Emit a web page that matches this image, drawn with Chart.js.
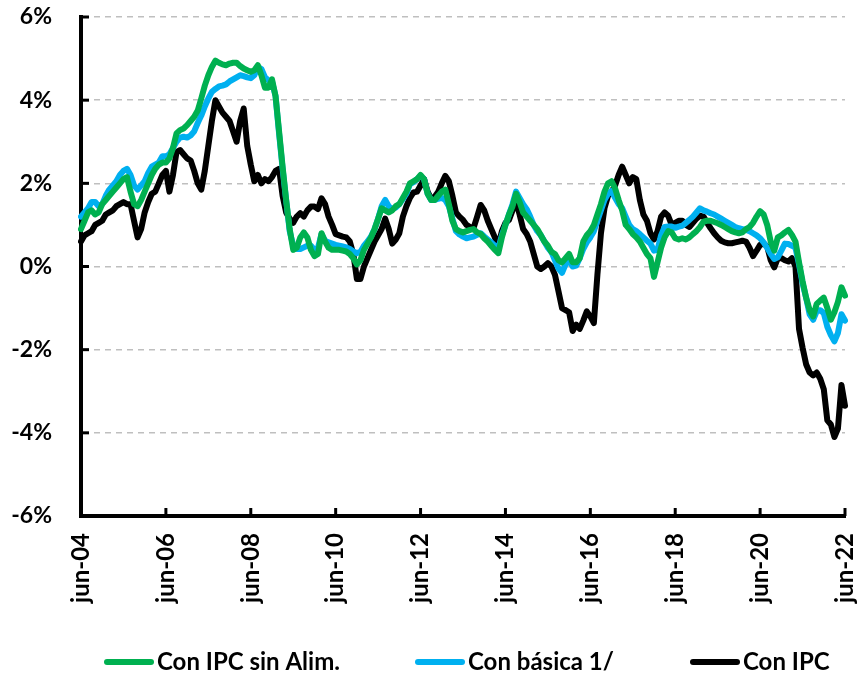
<!DOCTYPE html>
<html>
<head>
<meta charset="utf-8">
<script src="https://cdn.jsdelivr.net/npm/chart.js@4.4.1/dist/chart.umd.min.js"></script>
<style>
  html, body { margin: 0; padding: 0; background: #fff; overflow: hidden; }
  #wrap { width: 859px; height: 673px; }
</style>
</head>
<body>
<div id="wrap"><canvas id="brechas"></canvas></div>
<script>
// monthly series, jun-04 .. jun-22 (one row per year, starting in June)
const sinAlim = [
  0.9, 1.1, 1.3, 1.35, 1.25, 1.3, 1.5, 1.6, 1.7, 1.8, 1.9, 2.0,
  2.1, 2.15, 1.8, 1.5, 1.45, 1.6, 1.8, 2.0, 2.2, 2.35, 2.45, 2.5,
  2.5, 2.6, 2.85, 3.2, 3.28, 3.32, 3.4, 3.5, 3.6, 3.75, 4.04, 4.35,
  4.6, 4.8, 4.95, 4.9, 4.86, 4.84, 4.88, 4.9, 4.9, 4.82, 4.76, 4.72,
  4.68, 4.72, 4.84, 4.6, 4.3, 4.3, 4.5, 4.1, 3.25, 2.4, 1.6, 0.9,
  0.4, 0.45, 0.7, 0.82, 0.7, 0.4, 0.25, 0.3, 0.8, 0.6, 0.45, 0.4,
  0.4, 0.4, 0.38, 0.36, 0.3, 0.2, 0.05, 0.15, 0.4, 0.55, 0.7, 0.9,
  1.15, 1.4, 1.35, 1.3, 1.35, 1.45, 1.5, 1.65, 1.8, 2.0, 2.05, 2.1,
  2.2, 2.1, 1.75, 1.6, 1.6, 1.7, 1.8, 1.85, 1.5, 1.1, 0.9, 0.85,
  0.82, 0.85, 0.88, 0.9, 0.82, 0.78, 0.68, 0.6, 0.5, 0.4, 0.32, 0.7,
  1.0, 1.25, 1.45, 1.75, 1.55, 1.3, 1.2, 1.1, 1.0, 0.9, 0.75, 0.6,
  0.5, 0.35, 0.3, 0.15, 0.1, 0.2, 0.3, 0.1, 0.1, 0.2, 0.6, 0.75,
  0.85, 1.0, 1.25, 1.5, 1.8, 2.0, 2.05, 1.88, 1.6, 1.35, 1.0, 0.9,
  0.78, 0.7, 0.6, 0.45, 0.3, 0.2, -0.25, 0.1, 0.45, 0.7, 0.85, 0.82,
  0.68, 0.65, 0.68, 0.65, 0.7, 0.78, 0.85, 0.95, 1.08, 1.1, 1.1, 1.07,
  1.04, 1.0, 0.95, 0.9, 0.85, 0.82, 0.8, 0.82, 0.9, 0.95, 1.05, 1.2,
  1.33, 1.25, 1.0, 0.6, 0.38, 0.7, 0.75, 0.82, 0.88, 0.76, 0.6, 0.1,
  -0.35, -0.75, -1.05, -1.2, -0.9, -0.82, -0.75, -1.0, -1.28, -1.1, -0.85, -0.5,
  -0.7
];
const basica = [
  1.2, 1.3, 1.4, 1.55, 1.55, 1.45, 1.5, 1.7, 1.85, 1.95, 2.05, 2.2,
  2.3, 2.35, 2.2, 1.95, 1.85, 1.95, 2.05, 2.25, 2.4, 2.45, 2.5, 2.65,
  2.65, 2.7, 2.85, 3.0, 3.1, 3.12, 3.1, 3.15, 3.25, 3.45, 3.63, 3.85,
  4.04, 4.2, 4.27, 4.33, 4.35, 4.38, 4.45, 4.5, 4.55, 4.6, 4.58, 4.55,
  4.53, 4.6, 4.8, 4.75, 4.55, 4.48, 4.45, 4.1, 3.2, 2.35, 1.6, 0.85,
  0.5, 0.42, 0.42, 0.46, 0.5, 0.5, 0.4, 0.45, 0.78, 0.62, 0.58, 0.55,
  0.52, 0.5, 0.48, 0.46, 0.42, 0.36, 0.32, 0.35, 0.5, 0.6, 0.72, 0.9,
  1.15, 1.45, 1.6, 1.45, 1.38, 1.42, 1.5, 1.62, 1.75, 1.98, 2.03, 2.1,
  2.18, 2.1, 1.75, 1.6, 1.6, 1.63, 1.65, 1.6, 1.45, 1.15, 0.85, 0.77,
  0.72, 0.68, 0.7, 0.72, 0.76, 0.8, 0.72, 0.65, 0.58, 0.5, 0.44, 0.75,
  1.0, 1.25, 1.5, 1.8, 1.65, 1.5, 1.38, 1.2, 1.0, 0.85, 0.75, 0.6,
  0.45, 0.35, 0.15, -0.05, -0.15, 0.05, 0.15, 0.0, 0.02, 0.2, 0.42, 0.58,
  0.7, 0.85, 1.1, 1.35, 1.6, 1.75, 1.82, 1.65, 1.5, 1.4, 1.2, 1.0,
  0.9, 0.85, 0.78, 0.7, 0.62, 0.55, 0.38, 0.4, 0.75, 0.95, 0.96, 0.96,
  0.93, 0.96, 0.98, 1.05, 1.12, 1.2, 1.3, 1.4, 1.35, 1.32, 1.28, 1.25,
  1.2, 1.15, 1.1, 1.05, 1.0, 0.95, 0.92, 0.9, 0.88, 0.85, 0.8, 0.75,
  0.68, 0.58, 0.45, 0.3, 0.18, 0.22, 0.38, 0.55, 0.54, 0.5, 0.45, 0.05,
  -0.4, -0.75, -1.15, -1.28, -1.08, -1.05, -1.12, -1.45, -1.65, -1.8, -1.6, -1.15,
  -1.3
];
const ipc = [
  0.6, 0.75, 0.8, 0.85, 1.0, 1.05, 1.1, 1.25, 1.3, 1.35, 1.45, 1.5,
  1.55, 1.5, 1.5, 1.1, 0.7, 0.9, 1.3, 1.55, 1.75, 1.8, 2.0, 2.2,
  2.3, 1.8, 2.2, 2.75, 2.8, 2.7, 2.6, 2.55, 2.3, 2.0, 1.85, 2.3,
  2.9, 3.5, 4.0, 3.85, 3.7, 3.6, 3.5, 3.25, 3.0, 3.5, 3.8, 2.9,
  2.45, 2.05, 2.2, 2.0, 2.1, 2.05, 2.15, 2.3, 2.35, 1.7, 1.3, 1.15,
  1.05, 1.2, 1.28, 1.2, 1.35, 1.44, 1.44, 1.38, 1.64, 1.5, 1.2, 1.0,
  0.78, 0.75, 0.72, 0.7, 0.6, 0.3, -0.3, -0.3, 0.0, 0.2, 0.4, 0.6,
  0.75, 0.9, 1.15, 0.9, 0.55, 0.65, 0.8, 1.2, 1.45, 1.65, 1.78, 1.8,
  1.95, 2.1, 1.8, 1.62, 1.68, 1.8, 2.0, 2.18, 2.05, 1.7, 1.3, 1.2,
  1.12, 1.0, 0.95, 0.93, 1.2, 1.48, 1.35, 1.1, 0.9, 0.7, 0.52, 0.85,
  1.05, 1.12, 1.35, 1.57, 1.25, 0.9, 0.78, 0.6, 0.3, 0.0, -0.06, 0.0,
  0.08, 0.0, -0.2, -0.6, -1.0, -1.05, -1.1, -1.55, -1.4, -1.5, -1.3, -1.08,
  -1.2, -1.36, -0.2, 0.8, 1.4, 1.7, 1.8, 1.95, 2.2, 2.4, 2.2, 2.0,
  2.15, 2.1, 1.6, 1.25, 1.1, 0.8, 0.65, 0.85, 1.2, 1.3, 1.22, 1.0,
  1.05, 1.1, 1.1, 1.0, 0.95, 1.05, 1.15, 1.22, 1.2, 1.05, 0.92, 0.8,
  0.7, 0.62, 0.58, 0.56, 0.56, 0.58, 0.6, 0.62, 0.6, 0.45, 0.25, 0.38,
  0.52, 0.55, 0.48, 0.15, -0.02, 0.2, 0.2, 0.15, 0.12, 0.2, 0.0, -1.5,
  -1.95, -2.35, -2.55, -2.62, -2.55, -2.7, -2.95, -3.7, -3.8, -4.1, -3.9, -2.85,
  -3.35
];

const seriesNames = ['Con IPC sin Alim.', 'Con básica 1/', 'Con IPC'];
const seriesColors = ['#00b050', '#00b0f0', '#000000'];
const tickLabels = ['jun-04', 'jun-06', 'jun-08', 'jun-10', 'jun-12',
                    'jun-14', 'jun-16', 'jun-18', 'jun-20', 'jun-22'];
const meses = ['ene', 'feb', 'mar', 'abr', 'may', 'jun',
               'jul', 'ago', 'sep', 'oct', 'nov', 'dic'];

// month labels from jun-2004 onwards
const fechas = ipc.map((v, i) => {
  const k = 5 + i;
  const yy = 4 + Math.floor(k / 12);
  return meses[k % 12] + '-' + String(yy).padStart(2, '0');
});

const fuente = 'Lato, Calibri, Carlito, sans-serif';

// tick marks pointing into the plot, as in the spreadsheet original
const marcasEjes = {
  id: 'marcasEjes',
  afterDatasetsDraw(chart) {
    const { ctx, chartArea, scales: { x, y } } = chart;
    ctx.save();
    ctx.strokeStyle = '#000';
    ctx.lineWidth = 3;
    y.ticks.forEach(t => {
      const py = y.getPixelForValue(t.value);
      ctx.beginPath();
      ctx.moveTo(chartArea.left, py);
      ctx.lineTo(chartArea.left + 8, py);
      ctx.stroke();
    });
    fechas.forEach((f, i) => {
      if (!tickLabels.includes(f)) return;
      const px = x.getPixelForValue(i);
      ctx.beginPath();
      ctx.moveTo(px, chartArea.bottom);
      ctx.lineTo(px, chartArea.bottom - 8);
      ctx.stroke();
    });
    ctx.restore();
  }
};

// legend row under the axis labels: short thick line + bold name
const leyenda = {
  id: 'leyenda',
  afterDraw(chart) {
    const ctx = chart.ctx;
    const y = 662, largo = 50, gap = 3;
    const inicio = [104, 415, 690];
    ctx.save();
    ctx.font = 'bold 24px ' + fuente;
    ctx.textBaseline = 'middle';
    ctx.lineCap = 'round';
    ctx.lineWidth = 6;
    chart.data.datasets.forEach((ds, i) => {
      const x = inicio[i];
      ctx.strokeStyle = ds.borderColor;
      ctx.beginPath();
      ctx.moveTo(x + 3, y);
      ctx.lineTo(x + largo - 3, y);
      ctx.stroke();
      ctx.fillStyle = '#000';
      ctx.fillText(ds.label, x + largo + gap, y);
    });
    ctx.restore();
  }
};

const datos = [sinAlim, basica, ipc];

new Chart(document.getElementById('brechas'), {
  type: 'line',
  data: {
    labels: fechas,
    datasets: datos.map((serie, i) => ({
      label: seriesNames[i],
      data: serie,
      borderColor: seriesColors[i],
      backgroundColor: seriesColors[i],
      borderWidth: 6,
      pointRadius: 0,
      tension: 0,
      borderJoinStyle: 'round',
      borderCapStyle: 'round'
    }))
  },
  options: {
    responsive: true,
    maintainAspectRatio: false,
    animation: false,
    layout: { padding: { top: 17, right: 14, left: 0, bottom: 0 } },
    plugins: {
      tooltip: { enabled: false },
      legend: { display: false }
    },
    scales: {
      x: {
        type: 'category',
        offset: false,
        grid: { display: false, drawTicks: false },
        border: { display: true, color: '#000', width: 4 },
        ticks: {
          autoSkip: false,
          minRotation: 90,
          maxRotation: 90,
          padding: 17,
          color: '#000',
          font: { family: fuente, size: 24, weight: 'bold' },
          callback(val) {
            const l = this.getLabelForValue(val);
            return tickLabels.includes(l) ? l : null;
          }
        },
        afterFit(scale) {
          scale.height = 157;
          scale.paddingLeft = 0;
          scale.paddingRight = 0;
        }
      },
      y: {
        min: -6,
        max: 6,
        grid: {
          color: '#bfbfbf',
          lineWidth: 1.5,
          drawTicks: false
        },
        border: { display: true, color: '#000', width: 4, dash: [6, 5] },
        ticks: {
          stepSize: 2,
          padding: 29,
          color: '#000',
          font: { family: fuente, size: 23, weight: 'bold' },
          callback: v => v + '%'
        },
        afterFit(scale) {
          scale.width = 81;
          scale.paddingTop = 0;
          scale.paddingBottom = 0;
        }
      }
    }
  },
  plugins: [marcasEjes, leyenda]
});
</script>
</body>
</html>
